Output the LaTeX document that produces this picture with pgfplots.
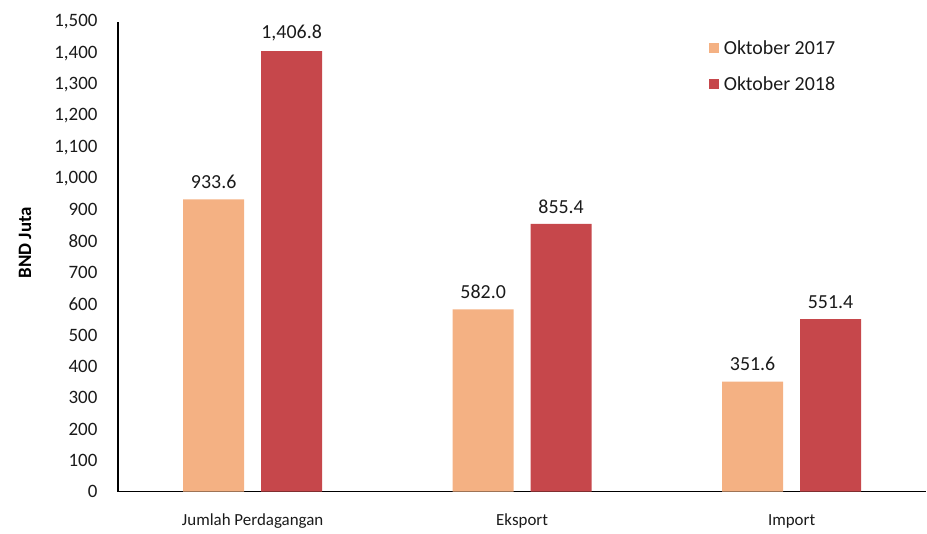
\documentclass[border=0pt]{standalone}
\usepackage{pgfplots}
\pgfplotsset{compat=1.18}
\usepackage{fontspec}
\setmainfont{Carlito}
\definecolor{orng}{HTML}{F4B183}
\definecolor{rd}{HTML}{C6474B}
\definecolor{txt}{HTML}{1A1A1A}
\begin{document}
\begin{tikzpicture}
\begin{axis}[
  scale only axis,
  width=809bp, height=470bp,
  at={(0,0)}, anchor=south west,
  xmin=-0.5, xmax=2.5,
  ymin=0, ymax=1500,
  ybar=17bp, bar width=61bp,
  axis x line*=bottom, axis y line*=left,
  axis line style={-, black, line width=1.3bp},
  xtick={0,1,2},
  xticklabels={Jumlah Perdagangan, Eksport, Import},
  ytick={0,100,...,1500},
  major tick length=0pt,
  /pgf/number format/assume math mode=true,
  /pgf/number format/1000 sep={,},
  yticklabel style={font=\fontsize{19}{22}\selectfont, text=txt, xshift=-17bp},
  xticklabel style={font=\fontsize{17}{20}\selectfont, text=txt, yshift=-19bp},
  ylabel={\textbf{BND Juta}},
  ylabel style={font=\fontsize{19}{22}\selectfont, text=black, at={(axis description cs:-0.115,0.53)}, anchor=center},
  nodes near coords,
  every node near coord/.append style={font=\fontsize{20}{23}\selectfont, text=txt, yshift=7bp,
    /pgf/number format/.cd, fixed, fixed zerofill, precision=1, 1000 sep={,}, assume math mode=true},
  legend style={at={(rel axis cs:0.727,0.970)}, anchor=north west, draw=none, fill=none,
    font=\fontsize{20}{23}\selectfont, text=txt, row sep=17bp},
  legend cell align=left,
  legend image code/.code={\fill[#1] (0bp,-5bp) rectangle (10bp,5bp); \path (13bp,0);},
]
\addplot[fill=orng, draw=none] coordinates {(0,933.6) (1,582.0) (2,351.6)};
\addplot[fill=rd, draw=none] coordinates {(0,1406.8) (1,855.4) (2,551.4)};
\legend{Oktober 2017, Oktober 2018}
\end{axis}
\path[use as bounding box] (-118bp,-42bp) rectangle (809bp,492bp);
\end{tikzpicture}
\end{document}
